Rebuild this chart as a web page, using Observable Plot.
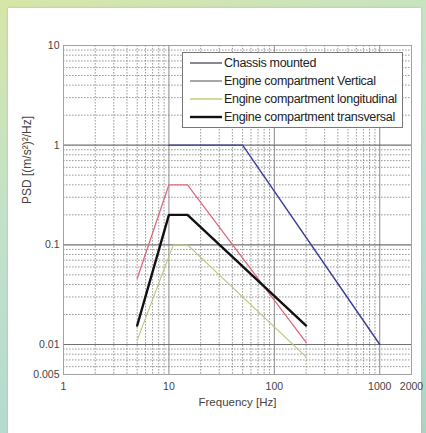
<!DOCTYPE html>
<html>
<head>
<meta charset="utf-8">
<script src="https://cdn.jsdelivr.net/npm/d3@7"></script>
<script src="https://cdn.jsdelivr.net/npm/@observablehq/plot@0.6"></script>
<style>
  html, body { margin: 0; padding: 0; }
  body {
    width: 426px; height: 433px; overflow: hidden; position: relative;
    background: linear-gradient(160deg, #d6e6a6 0%, #c4e2c8 35%, #b6dccf 70%, #a8d6c0 100%);
    font-family: "Liberation Sans", Arial, sans-serif;
  }
  #panel { position: absolute; left: 8px; top: 8px; width: 413px; height: 430px; background: #fff; box-shadow: 0 0 2px #9bb; }
  #chart { position: absolute; left: 0; top: 0; }
  #legend { position: absolute; left: 0; top: 0; pointer-events: none; }
</style>
</head>
<body>
<div id="panel"></div>
<div id="chart"></div>
<svg id="legend" width="426" height="433"></svg>
<script>
// ---- data ----
const seriesNames = ["Chassis mounted", "Engine compartment Vertical", "Engine compartment longitudinal", "Engine compartment transversal"];
const seriesColors = ["#3c3c9c", "#dc6c7c", "#b4c878", "#111111"];
const legendColors = ["#555566", "#777777", "#a8c050", "#111111"];
const seriesWidths = [1.4, 1.3, 1.1, 2.4];

const freqChassis = [10, 50, 1000];
const psdChassis = [1, 1, 0.01];
const freqVertical = [5, 10, 15, 200];
const psdVertical = [0.046, 0.4, 0.4, 0.0105];
const freqLongitudinal = [5, 11, 15, 200];
const psdLongitudinal = [0.011, 0.1, 0.1, 0.0075];
const freqTransversal = [5, 10, 15, 200];
const psdTransversal = [0.0155, 0.2, 0.2, 0.0155];

const xTicks = [1, 10, 100, 1000, 2000];
const yTicks = [0.005, 0.01, 0.1, 1, 10];
const yTickLabels = ["0.005", "0.01", "0.1", "1", "10"];

const xMajor = [10, 100, 1000];
const xMinor = [2, 3, 4, 5, 6, 7, 8, 9, 20, 30, 40, 50, 60, 70, 80, 90, 200, 300, 400, 500, 600, 700, 800, 900];
const yMajor = [0.01, 0.1, 1];
const yMinor = [0.006, 0.007, 0.008, 0.009, 0.02, 0.03, 0.04, 0.05, 0.06, 0.07, 0.08, 0.09,
                0.2, 0.3, 0.4, 0.5, 0.6, 0.7, 0.8, 0.9, 2, 3, 4, 5, 6, 7, 8, 9];

// ---- build tables ----
const rows = [];
[[freqChassis, psdChassis], [freqVertical, psdVertical], [freqLongitudinal, psdLongitudinal], [freqTransversal, psdTransversal]]
  .forEach(([fs, ps], i) => fs.forEach((f, j) => rows.push({series: seriesNames[i], f, psd: ps[j]})));
const yLabelRows = yTicks.map((v, i) => ({v, label: yTickLabels[i]}));

const fontFam = '"Liberation Sans", Arial, sans-serif';

const chart = Plot.plot({
  width: 426, height: 433,
  marginLeft: 63, marginRight: 15, marginTop: 45, marginBottom: 59,
  style: {background: "transparent", fontFamily: fontFam, fontSize: "10px", color: "#333", overflow: "visible"},
  x: {type: "log", domain: [1, 2000], axis: null},
  y: {type: "log", domain: [0.005, 10], axis: null},
  marks: [
    Plot.ruleX(xMinor, {stroke: "#808080", strokeWidth: 0.8, strokeDasharray: "1.6,1.4"}),
    Plot.ruleY(yMinor, {stroke: "#808080", strokeWidth: 0.8, strokeDasharray: "1.6,1.4"}),
    Plot.ruleX(xMajor, {stroke: "#8a8a8a", strokeWidth: 1}),
    Plot.ruleY(yMajor, {stroke: "#707070", strokeWidth: 1.2}),
    Plot.frame({stroke: "#999", strokeWidth: 0.9}),
    Plot.text(xTicks, {x: d => d, y: 0.005, text: d => String(d), lineAnchor: "top", dy: 8, fontSize: 10.5, fill: "#444"}),
    Plot.text(yLabelRows, {x: 1, y: "v", text: "label", textAnchor: "end", dx: -4, fontSize: 10.5, fill: "#444"}),
    ...seriesNames.map((s, i) => Plot.line(rows.filter(r => r.series === s), {
      x: "f", y: "psd", stroke: seriesColors[i], strokeWidth: seriesWidths[i], strokeLinejoin: "miter"
    })),
    Plot.text(["Frequency [Hz]"], {frameAnchor: "bottom", dy: 31, fontSize: 11.5, fill: "#444"}),
    Plot.text(["PSD [(m/s\u00b2)\u00b2/Hz]"], {frameAnchor: "left", dx: -36, dy: -6, rotate: -90, fontSize: 12, fill: "#444"})
  ]
});
document.getElementById("chart").appendChild(chart);

// ---- legend ----
const lg = d3.select("#legend");
const lx = 182, ly = 52, lw = 220, lh = 75;
lg.append("rect").attr("x", lx + 0.5).attr("y", ly + 0.5).attr("width", lw).attr("height", lh)
  .attr("fill", "#fff").attr("stroke", "#777").attr("stroke-width", 1);
seriesNames.forEach((s, i) => {
  const yy = ly + 11 + i * 18;
  lg.append("line").attr("x1", lx + 8).attr("x2", lx + 40).attr("y1", yy).attr("y2", yy)
    .attr("stroke", legendColors[i]).attr("stroke-width", seriesWidths[i]);
  lg.append("text").attr("x", lx + 42).attr("y", yy).attr("dy", "0.35em")
    .attr("font-family", fontFam).attr("font-size", 12.5).attr("fill", "#222")
    .attr("letter-spacing", -0.3).text(s);
});
</script>
</body>
</html>
